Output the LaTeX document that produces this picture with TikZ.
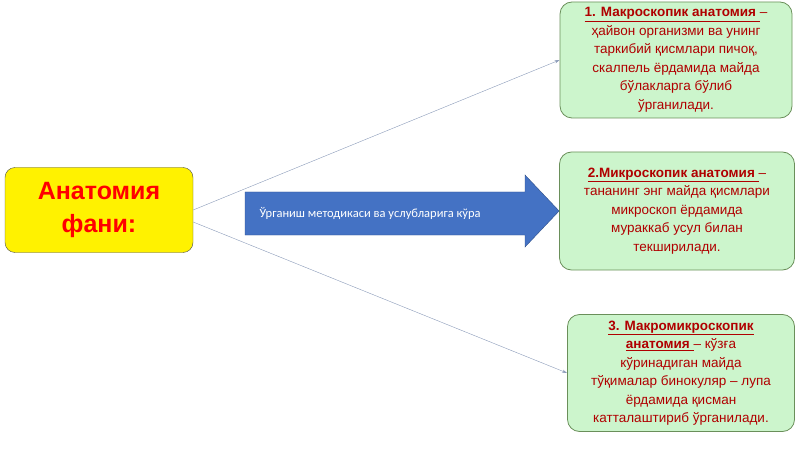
\documentclass[tikz,border=0pt]{standalone}
\usepackage{fontspec}
\setmainfont{Liberation Sans}
\newfontfamily\calib{Carlito}
\usetikzlibrary{positioning,arrows.meta}
\definecolor{boxgreen}{HTML}{CCF5CC}
\definecolor{boxline}{HTML}{6A8F5A}
\definecolor{txtred}{HTML}{B00000}
\definecolor{arrowblue}{HTML}{4472C4}
\definecolor{linkgray}{HTML}{8A9AB8}
\tikzset{
	kind/.style={draw=boxline, thick, fill=boxgreen, rounded corners=12pt, align=center,
		text=txtred, font=\fontsize{13.5}{18.5}\selectfont, inner sep=2pt},
	link/.style={draw=linkgray, thin, -{Stealth[length=5pt,width=3pt]}},
}
\begin{document}
\begin{tikzpicture}[x=1pt,y=-1pt]
	\useasboundingbox (0,0) rectangle (800,449);
	\node[draw=black!70, fill=yellow, rounded corners=10pt, minimum width=188pt, minimum height=85pt,
		align=center, text=red, font=\fontsize{25}{33}\bfseries] (fan) at (99,210) {Анатомия\\фани:};
	\node[kind, minimum width=232pt, minimum height=116pt] (macro) at (676,60)
		{\textbf{\underline{1. Макроскопик анатомия }}–\\ҳайвон организми ва унинг\\таркибий қисмлари пичоқ,\\скалпель ёрдамида майда\\бўлакларга бўлиб\\ўрганилади.};
	\node[kind, minimum width=235pt, minimum height=118pt] (micro) at (677,211)
		{\textbf{\underline{2.Микроскопик анатомия }}–\\тананинг энг майда қисмлари\\микроскоп ёрдамида\\мураккаб усул билан\\текширилади.};
	\node[kind, minimum width=227pt, minimum height=117pt] (mm) at (681,373)
		{\textbf{\underline{3. Макромикроскопик}}\\\textbf{\underline{анатомия }}– кўзға\\кўринадиган майда\\тўқималар бинокуляр – лупа\\ёрдамида қисман\\катталаштириб ўрганилади.};
	% thick arrow
	\fill[arrowblue, draw=arrowblue!70!black] (245,192) -- (525,192) -- (525,175) -- (micro.west)
		-- (525,247) -- (525,235) -- (245,235) -- cycle;
	\node[text=white, font=\calib\fontsize{12.5}{15}\selectfont, anchor=west] (waytext) at (256,213)
		{Ўрганиш методикаси ва услубларига кўра};
	\draw[link] (fan.east) -- (macro.west);
	\draw[link] ([yshift=-12pt]fan.east) -- (mm.west);
\end{tikzpicture}
\end{document}
